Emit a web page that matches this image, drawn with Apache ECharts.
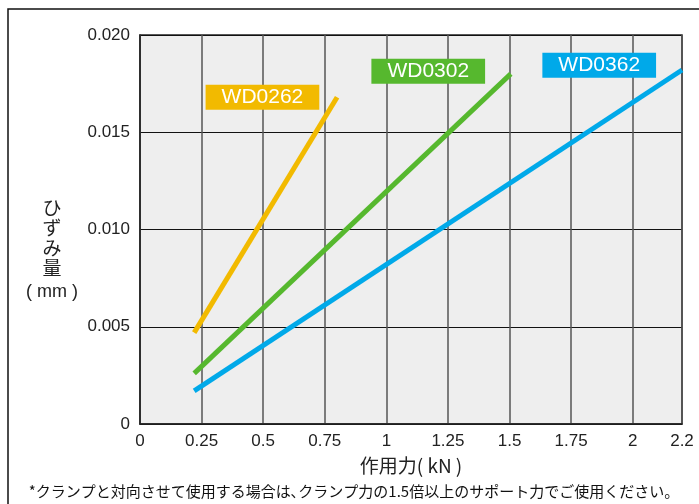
<!DOCTYPE html>
<html>
<head>
<meta charset="utf-8">
<script src="https://cdn.jsdelivr.net/npm/echarts@6/dist/echarts.min.js"></script>
<style>html,body{margin:0;padding:0;background:#fff;}#c{width:699px;height:504px;}</style>
</head>
<body>
<div id="c"></div>
<script>
const xTicks = [0, 0.25, 0.5, 0.75, 1, 1.25, 1.5, 1.75, 2, 2.2];
const yTicks = [0, 0.005, 0.010, 0.015, 0.020];
const seriesNames = ['WD0262', 'WD0302', 'WD0362'];
const wd0262 = [[0.22, 0.0047], [0.80, 0.0168]];
const wd0302 = [[0.22, 0.0026], [1.505, 0.0180]];
const wd0362 = [[0.22, 0.0017], [2.2, 0.0182]];
const labelPos = [[0.497, 0.0168], [1.17, 0.01813], [1.864, 0.01844]];
const colors = ['#F2BA00', '#56B82E', '#00A9E9'];

const FONT = '"Liberation Sans", Arial, sans-serif';
const JFONT = '"Noto Sans CJK JP", sans-serif';
const chart = echarts.init(document.getElementById('c'), null, {renderer: 'canvas'});
const datas = [wd0262, wd0302, wd0362];
const series = datas.map((d, i) => ({
  name: seriesNames[i],
  type: 'line',
  data: d,
  symbol: 'none',
  lineStyle: {color: colors[i], width: 5},
  z: 5,
  markPoint: {
    symbol: 'rect', symbolSize: 0,
    data: [{coord: labelPos[i], value: seriesNames[i]}],
    label: {
      show: true, position: 'inside', formatter: seriesNames[i],
      color: '#fff', fontFamily: FONT, fontSize: 21,
      backgroundColor: colors[i], padding: [2, 16, 1, 16], lineHeight: 22
    }
  }
}));
chart.setOption({
  animation: false,
  backgroundColor: '#fff',
  grid: {left: 140, top: 35, right: 17, bottom: 80, show: true, backgroundColor: '#eeeeee', borderColor: '#222', borderWidth: 1.5, z: 0},
  xAxis: {
    type: 'value', min: 0, max: 2.2, interval: 0.25,
    axisLine: {show: true, lineStyle: {color: '#222', width: 1.5}},
    axisTick: {show: false},
    splitLine: {show: true, lineStyle: {color: '#555', width: 1.5}},
    axisLabel: {color: '#222', fontFamily: FONT, fontSize: 17, margin: 9,
      formatter: v => String(Math.round(v * 100) / 100)},
    name: '作用力( kN )', nameLocation: 'middle', nameGap: 32,
    nameTextStyle: {color: '#222', fontFamily: JFONT, fontSize: 19}
  },
  yAxis: {
    type: 'value', min: 0, max: 0.02, interval: 0.005,
    axisLine: {show: true, lineStyle: {color: '#222', width: 1.5}},
    axisTick: {show: false},
    splitLine: {show: true, lineStyle: {color: '#111', width: 1}},
    axisLabel: {color: '#222', fontFamily: FONT, fontSize: 17, margin: 10,
      formatter: v => v === 0 ? '0' : v.toFixed(3)}
  },
  graphic: [
    {type: 'rect', shape: {x: 8, y: 9, width: 800, height: 600}, style: {fill: 'none', stroke: '#111', lineWidth: 1.5}, silent: true, z: -1},
    {type: 'text', style: {x: 52, y: 198, text: 'ひ\nず\nみ\n量', textAlign: 'center', fontFamily: JFONT, fontSize: 19, lineHeight: 20, fill: '#222'}},
    {type: 'text', style: {x: 52, y: 283, text: '( mm )', textAlign: 'center', fontFamily: FONT, fontSize: 18, fill: '#222'}},
    {type: 'text', style: {x: 354, y: 484, text: '*クランプと対向させて使用する場合は､クランプ力の1.5倍以上のサポート力でご使用ください。', textAlign: 'center', fontFamily: JFONT, fontSize: 15, fill: '#111'}}
  ],
  series: series
});
</script>
</body>
</html>
